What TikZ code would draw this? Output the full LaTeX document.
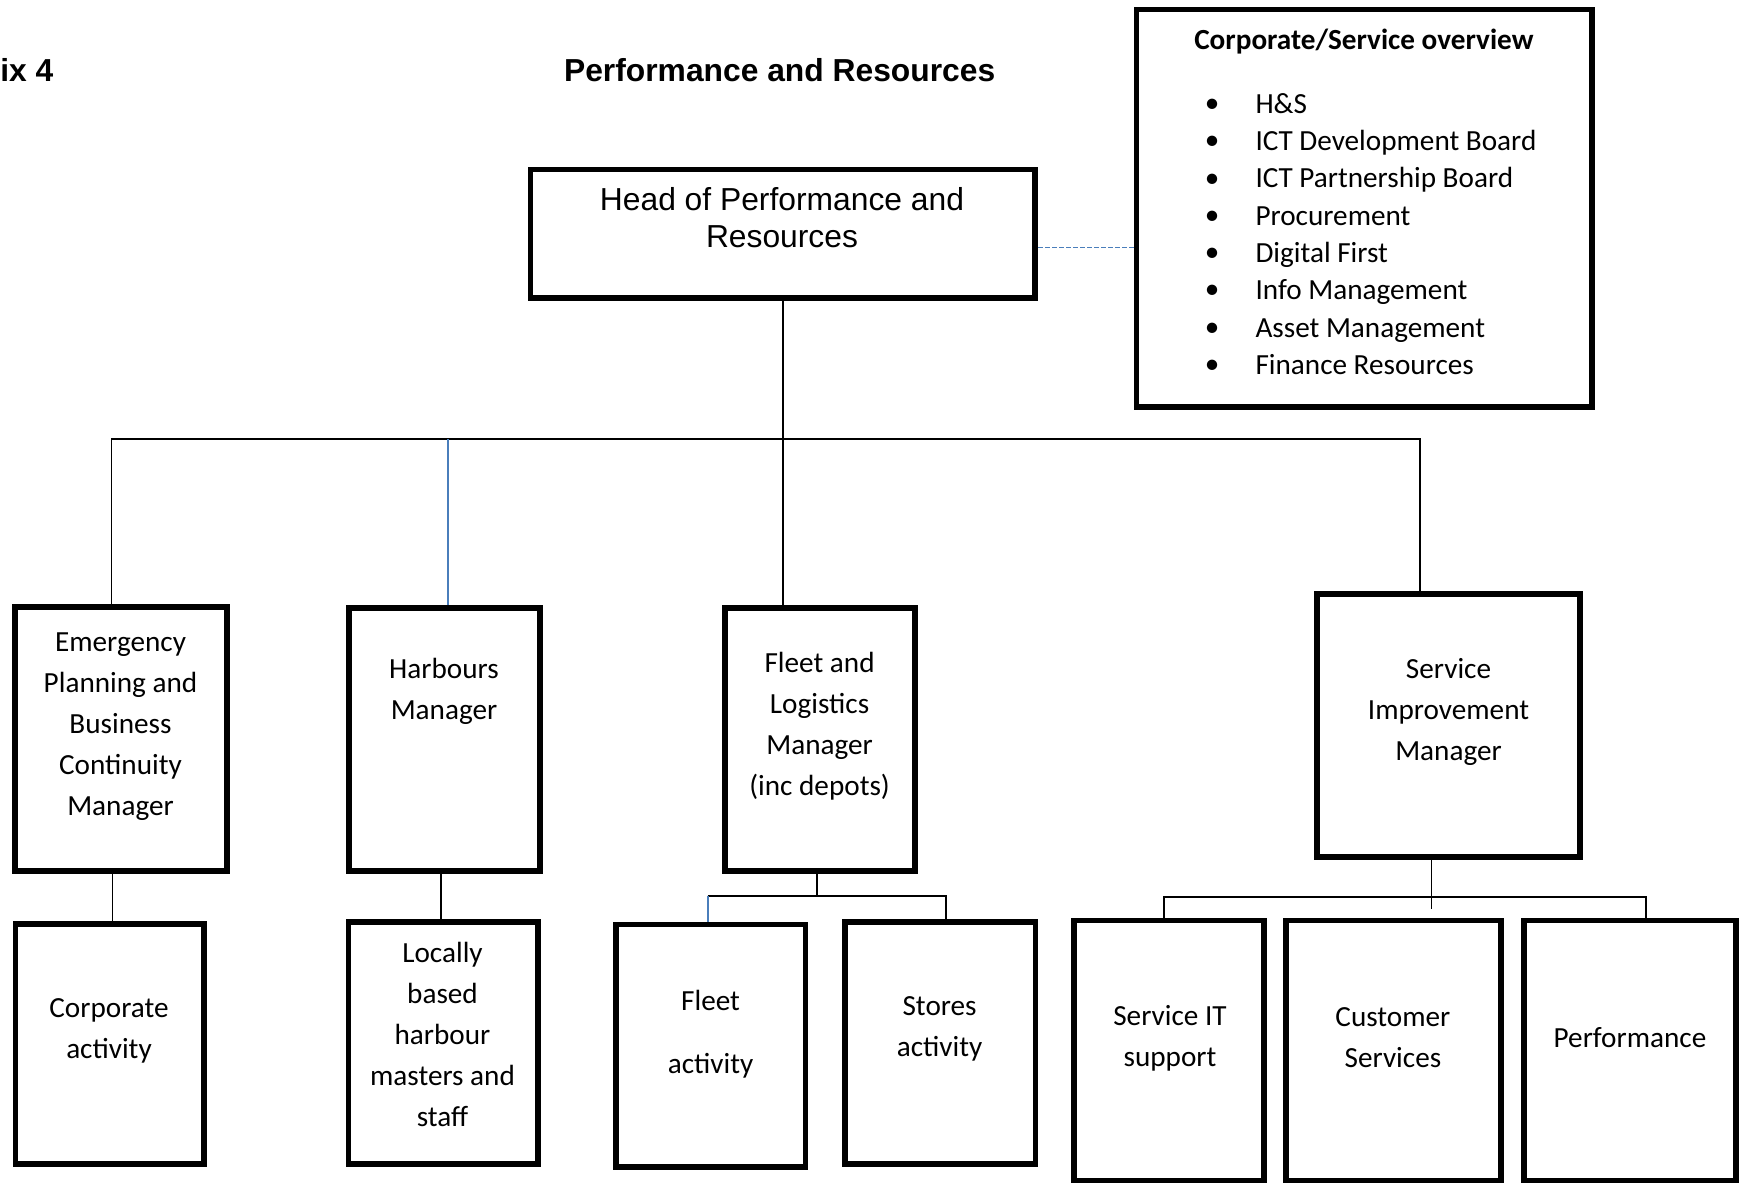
\documentclass[tikz,border=0pt]{standalone}
\usepackage{fontspec}
\setmainfont{Carlito}
\newfontfamily\arialfont{Liberation Sans}
\usepackage{xcolor}
\usepackage{tikz}

\definecolor{linkblue}{HTML}{4A7EBB}

\begin{document}
\begin{tikzpicture}[x=0.5pt, y=-0.5pt,
    box/.style={draw, rectangle, line width=2.8pt, inner sep=0pt},
    lbl/.style={align=center, anchor=base, inner sep=0pt, font=\fontsize{14.6}{20.5}\selectfont},
    ovitem/.style={inner sep=0pt, font=\fontsize{14.6}{18.65}\selectfont},
    conn/.style={line width=0.9pt},
    bluelink/.style={draw=linkblue, line width=0.9pt},
    dashlink/.style={draw=linkblue, line width=0.7pt, dash pattern=on 2.5pt off 1pt}]
    \useasboundingbox (0,0) rectangle (1740,1184);

    % titre
    \node[anchor=base west, inner sep=0pt, font=\arialfont\bfseries\fontsize{15.9}{18.3}\selectfont] (appx) at (0,81.7) {ix 4};
    \node[anchor=base, inner sep=0pt, font=\arialfont\bfseries\fontsize{15.9}{18.3}\selectfont] (title) at (779.7,81.7) {Performance and Resources};

    % head + overview
    \node[box, minimum width=252.45pt, minimum height=64.35pt] (head) at (782.75,233.85) {};
    \node[lbl, font=\arialfont\fontsize{15.9}{18.3}\selectfont] (head-t) at (782,247.3) {Head of Performance and\\Resources};

    \node[box, minimum width=227.8pt, minimum height=198.85pt] (ovw) at (1364.1,208.35) {};
    \node[ovitem, anchor=base, font=\bfseries\fontsize{14.6}{18.65}\selectfont] (ovw-t) at (1363.9,49.3) {Corporate/Service overview};
    \foreach \txt [count=\i] in {H\&S, ICT Development Board, ICT Partnership Board, Procurement,
        Digital First, Info Management, Asset Management, Finance Resources}
    {
        \node[ovitem, anchor=center] (bul-\i) at (1212.2,{105.8+37.3*(\i-1)}) {\textbullet};
        \node[ovitem, anchor=base west] (ovw-\i) at (1255.1,{113.3+37.3*(\i-1)}) {\txt};
    }

    % managers
    \node[box, minimum width=105.9pt, minimum height=132.05pt] (emg) at (120.9,739.15) {};
    \node[lbl] (emg-t) at (120.5,815) {Emergency\\Planning and\\Business\\Continuity\\Manager};
    \node[box, minimum width=95.4pt, minimum height=131.7pt] (harb) at (444.5,739.5) {};
    \node[lbl] (harb-t) at (444,719.3) {Harbours\\Manager};
    \node[box, minimum width=95pt, minimum height=131.7pt] (flm) at (819.9,739.5) {};
    \node[lbl] (flm-t) at (819.6,795) {Fleet and\\Logistics\\Manager\\(inc depots)};
    \node[box, minimum width=131.7pt, minimum height=131.7pt] (si) at (1448.5,725.5) {};
    \node[lbl] (si-t) at (1448.5,760.7) {Service\\Improvement\\Manager};

    % teams
    \node[box, minimum width=94.2pt, minimum height=120.2pt] (corp) at (109.6,1044) {};
    \node[lbl] (corp-t) at (109,1058.3) {Corporate\\activity};
    \node[box, minimum width=94.8pt, minimum height=121.05pt] (loc) at (443.1,1043.15) {};
    \node[lbl] (loc-t) at (442.5,1126) {Locally\\based\\harbour\\masters and\\staff};
    \node[box, minimum width=94.8pt, minimum height=121.35pt] (fact) at (710.6,1045.85) {};
    \node[lbl] (fact-t) at (710.6,1073.3) {Fleet\\[10.8pt]activity};
    \node[box, minimum width=95.3pt, minimum height=121.05pt] (stor) at (940.1,1043.15) {};
    \node[lbl] (stor-t) at (939.6,1056.7) {Stores\\activity};
    \node[box, minimum width=95pt, minimum height=130pt] (sit) at (1169.2,1050.5) {};
    \node[lbl] (sit-t) at (1170,1066) {Service IT\\support};
    \node[box, minimum width=107.55pt, minimum height=130pt] (cust) at (1393.35,1050.5) {};
    \node[lbl] (cust-t) at (1392.9,1067.3) {Customer\\Services};
    \node[box, minimum width=106pt, minimum height=130pt] (perf) at (1630.2,1050.5) {};
    \node[lbl] (perf-t) at (1630,1047.3) {Performance};

    % lignes
    \coordinate (bus) at (0,439.3);
    \coordinate (fbus) at (0,895.7);
    \coordinate (sbus) at (0,896.7);
    \coordinate (si-end) at (1431.5,909.3);

    \draw[dashlink] (head.east |- 0,247.3) -- (ovw.west |- 0,247.3);
    \draw[conn] (head.south) -- (head.south |- flm.north);
    \draw[conn] ([xshift=-4.75pt]emg.north) |- ([xshift=-14.2pt]si.north |- bus) -- ([xshift=-14.2pt]si.north);
    \draw[bluelink] ([xshift=1.65pt]harb.north) -- ([xshift=1.65pt]harb.north |- bus);

    \draw[conn] ([xshift=1.45pt]corp.north) -- ([xshift=1.45pt]corp.north |- emg.south);
    \draw[conn] ([xshift=-1pt]loc.north) -- ([xshift=-1pt]loc.north |- harb.south);

    \draw[conn] ([xshift=-1.55pt]flm.south) -- ([xshift=-1.55pt]flm.south |- fbus);
    \draw[conn] ([xshift=-1.45pt]fact.north |- fbus) -| ([xshift=3pt]stor.north);
    \draw[bluelink] ([xshift=-1.45pt]fact.north) -- ([xshift=-1.45pt]fact.north |- fbus);

    \draw[conn] ([xshift=-8.5pt]si.south) -- (si-end);
    \draw[conn] ([xshift=-2.55pt]sit.north) |- ([xshift=7.75pt]perf.north |- sbus) -- ([xshift=7.75pt]perf.north);
\end{tikzpicture}
\end{document}
